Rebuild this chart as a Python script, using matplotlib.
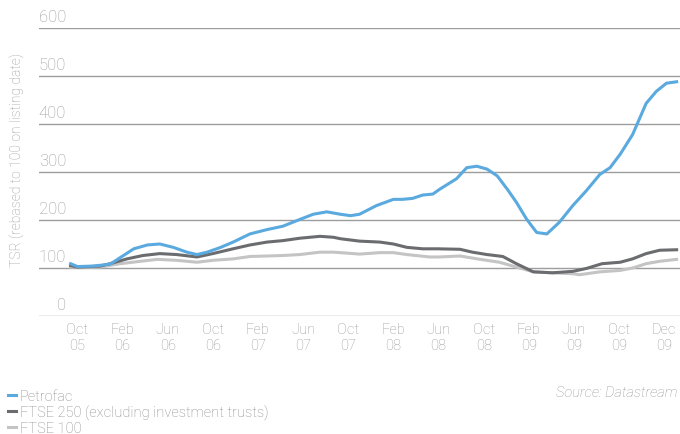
import matplotlib.pyplot as plt
from matplotlib.lines import Line2D

# x = months since Oct 2005
petrofac_x = [-0.6, 0, 1.4, 2.9, 5.0, 6.2, 7.3, 8.5, 9.7, 10.6, 11.5, 12.7, 13.8, 15.3,
              16.8, 18.2, 19.7, 20.9, 22.1, 23.3, 24.2, 25.0, 26.5, 28.0, 28.8, 29.7,
              30.6, 31.5, 32.1, 33.6, 34.5, 35.4, 36.3, 37.2, 38.1, 38.9, 39.8, 40.7,
              41.6, 42.7, 43.9, 45.1, 46.3, 47.2, 48.1, 49.2, 50.4, 51.3, 52.2, 53.1]
petrofac = [109, 103, 104, 108, 140, 148, 150, 143, 133, 128, 133, 143, 154, 171,
            180, 187, 201, 212, 217, 212, 209, 212, 230, 243, 243, 245,
            252, 254, 264, 286, 309, 312, 306, 292, 264, 237, 202, 174,
            171, 195, 230, 261, 295, 309, 337, 378, 443, 468, 485, 488]

ftse250_x = [-0.6, 0, 2.0, 2.9, 4.4, 5.8, 7.3, 8.8, 10.6, 12.0, 13.8, 15.3, 16.8, 18.2,
             19.7, 21.5, 22.7, 23.3, 25.0, 26.8, 28.0, 29.2, 30.6, 31.9, 33.9, 35.0,
             36.3, 37.7, 38.9, 40.4, 42.1, 43.9, 45.1, 46.5, 48.1, 49.2, 50.4, 51.6, 53.1]
ftse250 = [105, 102, 104, 109, 119, 126, 130, 128, 123, 130, 140, 148, 154, 157,
           162, 166, 164, 161, 156, 154, 150, 143, 140, 140, 139, 133,
           128, 124, 109, 92, 90, 93, 99, 109, 112, 119, 130, 137, 138]

ftse100_x = [-0.6, 2.0, 3.8, 5.6, 7.1, 8.8, 10.6, 12.0, 13.8, 15.3, 16.8, 18.2, 19.7,
             21.5, 22.7, 23.3, 25.0, 26.8, 28.0, 29.2, 31.2, 32.1, 33.9, 35.7, 37.4,
             38.9, 40.4, 42.1, 43.9, 44.5, 46.3, 48.1, 49.2, 50.4, 51.6, 53.1]
ftse100 = [102, 102, 109, 114, 118, 116, 112, 116, 119, 124, 125, 126, 128,
           133, 133, 132, 129, 132, 132, 128, 123, 123, 125, 118, 112,
           102, 92, 90, 88, 86, 92, 95, 100, 109, 114, 118]

tick_pos = [0, 4, 8, 12, 16, 20, 24, 28, 32, 36, 40, 44, 48, 52]
tick_labels = ['Oct\n05', 'Feb\n06', 'Jun\n06', 'Oct\n06', 'Feb\n07', 'Jun\n07', 'Oct\n07',
               'Feb\n08', 'Jun\n08', 'Oct\n08', 'Feb\n09', 'Jun\n09', 'Oct\n09', 'Dec\n09']
y_ticks = [0, 100, 200, 300, 400, 500, 600]

blue = '#5aa9df'
dark = '#6b6c6f'
light = '#c4c4c4'
txt = '#999999'

plt.rcParams['font.family'] = ['Roboto', 'DejaVu Sans']
plt.rcParams['font.weight'] = 'light'

fig = plt.figure(figsize=(6.8, 4.35), dpi=100)
ax = fig.add_axes([39 / 680, 118 / 435, 641 / 680, 288 / 435])

for y in y_ticks:
    ax.axhline(y, color='#9d9d9d', lw=1.0, zorder=1)

ax.plot(ftse100_x, ftse100, color=light, lw=2.2, solid_joinstyle='round', zorder=3)
ax.plot(ftse250_x, ftse250, color=dark, lw=2.2, solid_joinstyle='round', zorder=4)
ax.plot(petrofac_x, petrofac, color=blue, lw=2.2, solid_joinstyle='round', zorder=5)

ax.set_xlim(-3.4, 53.4)
ax.set_ylim(0, 600)
for s in ax.spines.values():
    s.set_visible(False)

ax.set_xticks(tick_pos, tick_labels)
ax.tick_params(axis='x', length=0, pad=4, labelsize=10.5, labelcolor=txt)
ax.set_yticks([])

tr = ax.get_yaxis_transform()
for y in y_ticks:
    ax.text(27 / 641, y + 8, str(y), transform=tr, ha='right', va='bottom',
            fontsize=12, color=txt)

fig.text(17 / 680, 1 - 160 / 435, 'TSR (rebased to 100 on listing date)', rotation=90,
         ha='center', va='center', fontsize=10, color=txt)

handles = [Line2D([], [], color=blue, lw=2.2),
           Line2D([], [], color=dark, lw=2.2),
           Line2D([], [], color=light, lw=2.2)]
fig.legend(handles, ['Petrofac', 'FTSE 250 (excluding investment trusts)', 'FTSE 100'],
           loc='upper left', bbox_to_anchor=(1 / 680, 1 - 383 / 435), frameon=False,
           handlelength=0.5, handletextpad=0.3, labelspacing=0.1, borderpad=0,
           fontsize=10.5, labelcolor='#8a8a8a')

fig.text(677 / 680, 1 - 393 / 435, 'Source: Datastream', ha='right', va='center',
         fontsize=10.5, style='italic', color=txt)

fig.savefig('out.png', dpi=100)
